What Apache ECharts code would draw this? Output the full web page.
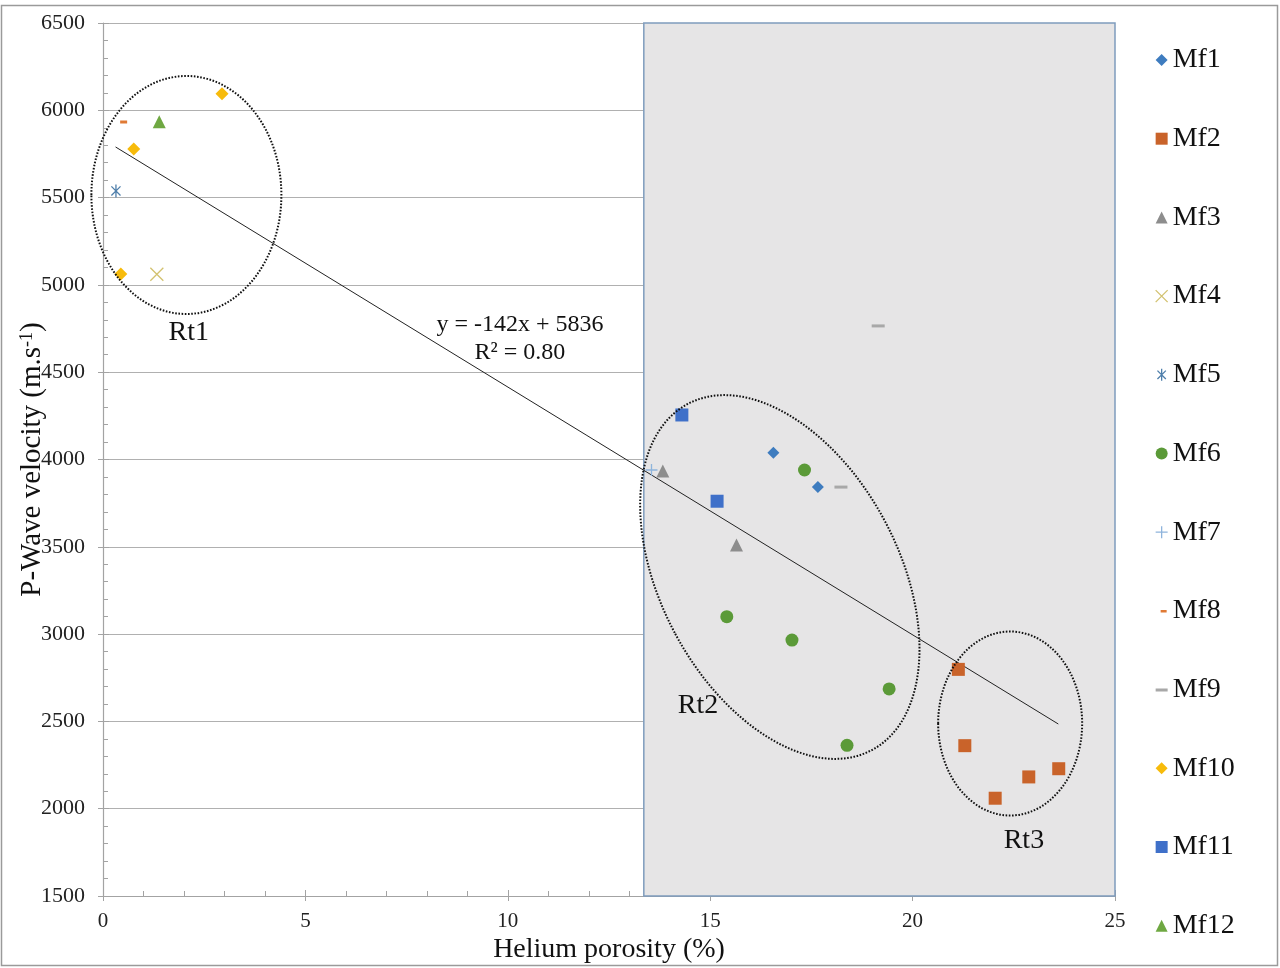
<!DOCTYPE html>
<html>
<head>
<meta charset="utf-8">
<script src="https://cdn.jsdelivr.net/npm/echarts@6/dist/echarts.min.js"></script>
<style>
    html, body {margin: 0; padding: 0; background: #fff;}
    #main {width: 1280px; height: 968px;}
</style>
</head>
<body>
<div id="main"></div>
<script>
    /*点位数据：[孔隙度 %, 纵波速度 m/s]*/
    var MF1 = [[16.56, 4039], [17.66, 3842]];
    var MF2 = [[21.13, 2798], [21.29, 2361], [22.04, 2060], [22.87, 2182], [23.61, 2229]];
    var MF3 = [[13.83, 3934], [15.65, 3510]];
    var MF4 = [[1.33, 5061]];
    var MF5 = [[0.32, 5538]];
    var MF6 = [[17.33, 3940], [15.41, 3100], [17.02, 2966], [19.42, 2686], [18.38, 2363]];
    var MF7 = [[13.55, 3940]];
    var MF8 = [[0.51, 5933]];
    var MF9 = [[19.15, 4765], [18.23, 3842]];
    var MF10 = [[2.94, 6095], [0.76, 5778], [0.44, 5062]];
    var MF11 = [[14.3, 4255], [15.17, 3761]];
    var MF12 = [[1.39, 5935]];
    var NAMES = ['Mf1', 'Mf2', 'Mf3', 'Mf4', 'Mf5', 'Mf6', 'Mf7', 'Mf8', 'Mf9', 'Mf10', 'Mf11', 'Mf12'];
    var VALUES = [MF1, MF2, MF3, MF4, MF5, MF6, MF7, MF8, MF9, MF10, MF11, MF12];
    /*趋势线端点*/
    var TREND = [[0.31, 5790], [23.6, 2485]];
    var TREND_TEXT = 'y = -142x + 5836\nR² = 0.80';
    /*灰色区域起点*/
    var SHADE_FROM = 13.36;
    var SHADE_TO = 25;
    var X_TICKS = [0, 25, 5];
    var Y_TICKS = [1500, 6500, 500];

    var SERIF = '"Liberation Serif", "Times New Roman", serif';
    var AXIS_GREY = '#a3a3a3';
    var PATH_X = 'path://M0,0 L10,10 M10,0 L0,10';
    var PATH_STAR = 'path://M1.5,1.5 L8.5,8.5 M8.5,1.5 L1.5,8.5 M5,0 L5,10';
    var PATH_PLUS = 'path://M5,0 L5,10 M0,5 L10,5';

    /*每个系列的符号样式*/
    var MARKS = [
        {symbol: 'diamond', size: 12, color: '#3e7cbf'},
        {symbol: 'rect', size: 13, color: '#c9632a'},
        {symbol: 'triangle', size: 13, color: '#8d8d8d'},
        {symbol: PATH_X, size: 13, color: 'transparent', line: '#d3c270'},
        {symbol: PATH_STAR, size: 13, color: 'transparent', line: '#4f7fab', keep: true},
        {symbol: 'circle', size: 13, color: '#5b9a38'},
        {symbol: PATH_PLUS, size: 12, color: 'transparent', line: '#8fb4dc'},
        {symbol: 'rect', size: [7, 3], color: '#e07a35'},
        {symbol: 'rect', size: [13, 3], color: '#a8a8a8'},
        {symbol: 'diamond', size: 13, color: '#f7bb0b'},
        {symbol: 'rect', size: 13, color: '#3f70c9'},
        {symbol: 'triangle', size: 13, color: '#6fa842'}
    ];
    /*图例图标*/
    var ICONS = ['diamond', 'rect', 'triangle', PATH_X, PATH_STAR, 'circle', PATH_PLUS,
        'path://M0,0h0.01v0.01z M5,5 h6 v2.5 h-6 z M12,12h0.01v0.01z',
        'path://M0,0h0.01v0.01z M0,5 h12 v3 h-12 z M12,12h0.01v0.01z',
        'diamond', 'rect', 'triangle'];

    var series = [];
    var legendData = [];
    for (var i = 0; i < NAMES.length; i++) {
        var m = MARKS[i];
        series.push({
            name: NAMES[i],
            type: 'scatter',
            data: VALUES[i],
            symbol: m.symbol,
            symbolSize: m.size,
            symbolKeepAspect: !!m.keep,
            itemStyle: {
                color: m.color,
                borderColor: m.line || m.color,
                borderWidth: m.line ? 1.3 : 0,
                opacity: 1
            },
            z: 4
        });
        legendData.push({
            name: NAMES[i],
            icon: ICONS[i],
            itemStyle: {borderWidth: m.line ? 1.3 : 0}
        });
    }
    series.push({
        name: 'trend',
        type: 'line',
        data: TREND,
        symbol: 'none',
        lineStyle: {color: '#222', width: 1},
        z: 3
    });
    /*灰色区域放在坐标轴下面，网格线才能露出来*/
    series.push({
        name: 'shade',
        type: 'scatter',
        data: [],
        z: -1,
        markArea: {
            silent: true,
            itemStyle: {color: '#e6e5e6', borderColor: '#7f9cbd', borderWidth: 1.5},
            data: [[{xAxis: SHADE_FROM}, {xAxis: SHADE_TO}]]
        }
    });

    function plain(v) {
        return String(v);
    }
    // 第二条轴只画朝外的主刻度
    function outerTicks(ticks, pos) {
        return {
            type: 'value',
            position: pos,
            min: ticks[0],
            max: ticks[1],
            interval: ticks[2],
            axisLine: {show: false},
            axisTick: {show: true, inside: false, length: 5, lineStyle: {color: AXIS_GREY}},
            axisLabel: {show: false},
            splitLine: {show: false}
        };
    }

    var myChart = echarts.init(document.getElementById('main'));
    var option = {
        animation: false,
        backgroundColor: '#fff',
        grid: {left: 103, right: 165, top: 23, bottom: 72, outerBoundsMode: 'none', containLabel: false},
        legend: {
            orient: 'vertical',
            left: 1155,
            top: 46,
            padding: 0,
            itemWidth: 12,
            itemHeight: 12,
            itemGap: 50.7,
            selectedMode: false,
            data: legendData,
            textStyle: {fontFamily: SERIF, fontSize: 28, lineHeight: 28, color: '#111'}
        },
        xAxis: [{
            type: 'value',
            position: 'bottom',
            min: X_TICKS[0],
            max: X_TICKS[1],
            interval: X_TICKS[2],
            name: 'Helium porosity (%)',
            nameLocation: 'middle',
            nameGap: 40,
            nameMoveOverlap: false,
            nameTextStyle: {fontFamily: SERIF, fontSize: 28, color: '#111'},
            axisLine: {lineStyle: {color: AXIS_GREY, width: 1.2}},
            axisTick: {show: true, inside: true, length: 6, lineStyle: {color: AXIS_GREY}},
            minorTick: {show: true, splitNumber: 5, length: 5, lineStyle: {color: AXIS_GREY}},
            splitLine: {show: false},
            axisLabel: {fontFamily: SERIF, fontSize: 21, color: '#222', margin: 15, formatter: plain}
        }, outerTicks(X_TICKS, 'bottom')],
        yAxis: [{
            type: 'value',
            position: 'left',
            min: Y_TICKS[0],
            max: Y_TICKS[1],
            interval: Y_TICKS[2],
            name: 'P-Wave velocity (m.s{sup|-1})',
            nameLocation: 'middle',
            nameGap: 56,
            nameMoveOverlap: false,
            nameTextStyle: {
                fontFamily: SERIF, fontSize: 29, color: '#111',
                rich: {sup: {fontFamily: SERIF, fontSize: 18, color: '#111', verticalAlign: 'top', padding: [0, 0, 11, 0]}}
            },
            axisLine: {show: true, lineStyle: {color: AXIS_GREY, width: 1.2}},
            axisTick: {show: true, inside: true, length: 6, lineStyle: {color: AXIS_GREY}},
            minorTick: {show: true, splitNumber: 5, length: 5, lineStyle: {color: AXIS_GREY}},
            splitLine: {show: true, lineStyle: {color: '#b0b0b0', width: 1.2}},
            axisLabel: {fontFamily: SERIF, fontSize: 22, color: '#222', margin: 18, formatter: plain}
        }, outerTicks(Y_TICKS, 'left')],
        series: series
    };
    myChart.setOption(option);

    /*虚线椭圆和文字注释（中心用数据坐标，半径用像素）*/
    var RINGS = [
        {at: [2.06, 5515], rx: 95, ry: 119, rot: 0},
        {at: [16.72, 3327], rx: 119, ry: 196, rot: 28},
        {at: [22.41, 2488], rx: 72, ry: 92, rot: 0}
    ];
    var NOTES = [
        {at: [2.12, 4725], text: 'Rt1', size: 28},
        {at: [14.7, 2588], text: 'Rt2', size: 28},
        {at: [22.75, 1815], text: 'Rt3', size: 28},
        {at: [10.3, 4690], text: TREND_TEXT, size: 24}
    ];
    function toPx(p) {
        return myChart.convertToPixel({gridIndex: 0}, p);
    }
    var graphics = [];
    RINGS.forEach(function (r) {
        var c = toPx(r.at);
        graphics.push({
            type: 'ellipse',
            x: c[0],
            y: c[1],
            rotation: r.rot * Math.PI / 180,
            shape: {cx: 0, cy: 0, rx: r.rx, ry: r.ry},
            style: {fill: 'none', stroke: '#111', lineWidth: 2, lineDash: [1.6, 1.6]},
            z: 10,
            silent: true
        });
    });
    NOTES.forEach(function (n) {
        var c = toPx(n.at);
        graphics.push({
            type: 'text',
            x: c[0],
            y: c[1],
            style: {
                text: n.text,
                font: n.size + 'px ' + SERIF,
                fill: '#111',
                align: 'center',
                verticalAlign: 'middle',
                lineHeight: 28
            },
            z: 10,
            silent: true
        });
    });
    /*外框*/
    graphics.push({
        type: 'rect',
        shape: {x: 1.5, y: 5.5, width: 1276, height: 960},
        style: {fill: 'none', stroke: '#9a9a9a', lineWidth: 1.5},
        silent: true
    });
    myChart.setOption({graphic: graphics});
</script>
</body>
</html>
